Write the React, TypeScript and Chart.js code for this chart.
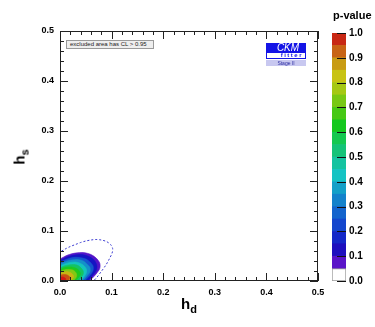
import React, { useEffect, useRef } from 'react';
import { Chart, registerables } from 'chart.js';

Chart.register(...registerables);

const FONT = '"Liberation Sans", Arial, Helvetica, sans-serif';

// axis ticks
const axisTickValues = [0, 0.1, 0.2, 0.3, 0.4, 0.5];
const axisTickLabels = ['0.0', '0.1', '0.2', '0.3', '0.4', '0.5'];
const paletteTickValues = [0, 0.1, 0.2, 0.3, 0.4, 0.5, 0.6, 0.7, 0.8, 0.9, 1.0];
const paletteTickLabels = ['0.0', '0.1', '0.2', '0.3', '0.4', '0.5', '0.6', '0.7', '0.8', '0.9', '1.0'];

// p-value palette (colour bar)
const paletteEdges = [0, 0.05, 0.1, 0.15, 0.2, 0.25, 0.3, 0.35, 0.4, 0.45, 0.5, 0.55, 0.6, 0.65, 0.7, 0.75, 0.8, 0.85, 0.9, 0.95, 1.0];
const paletteColors = [
  '#ffffff', '#5a14c8', '#1e0fbe', '#1428c8', '#1446cd', '#1464cd', '#1482cb', '#14a0c8', '#14c3c3', '#14c3a0',
  '#14c378', '#14c850', '#14c81e', '#46c814', '#78c814', '#a5c814', '#c8c314', '#c89b14', '#c86414', '#c82814',
];

// contour levels of the p-value (hd, hs) and the fill colour inside each level
const pLevels = [0.05, 0.1, 0.2, 0.3, 0.4, 0.5, 0.6, 0.7, 0.8, 0.9, 0.95];
const levelColors = ['#5214c8', '#1414c3', '#1455cd', '#1491c8', '#14c3be', '#14c364', '#1ec81e', '#82c814', '#c8b414', '#c85014', '#d21414'];

const c005 = [[0, 0.044], [0.015, 0.052], [0.03, 0.056], [0.045, 0.057], [0.06, 0.053], [0.07, 0.046], [0.077, 0.036], [0.077, 0.025], [0.07, 0.014], [0.063, 0.006], [0.058, 0]];
const c010 = [[0, 0.041], [0.014, 0.048], [0.028, 0.052], [0.042, 0.053], [0.056, 0.049], [0.065, 0.043], [0.071, 0.033], [0.071, 0.023], [0.065, 0.013], [0.058, 0.005], [0.054, 0]];
const c020 = [[-0.001, 0.037], [0.012, 0.043], [0.025, 0.047], [0.037, 0.047], [0.05, 0.044], [0.058, 0.038], [0.064, 0.03], [0.064, 0.021], [0.058, 0.011], [0.052, 0.005], [0.048, -0.001]];
const c030 = [[-0.001, 0.033], [0.011, 0.039], [0.022, 0.042], [0.034, 0.043], [0.045, 0.04], [0.052, 0.034], [0.058, 0.027], [0.058, 0.018], [0.052, 0.01], [0.047, 0.004], [0.043, -0.001]];
const c040 = [[-0.001, 0.029], [0.009, 0.034], [0.019, 0.037], [0.03, 0.038], [0.04, 0.035], [0.047, 0.03], [0.051, 0.024], [0.051, 0.016], [0.047, 0.009], [0.042, 0.003], [0.038, -0.001]];
const c050 = [[-0.001, 0.025], [0.008, 0.03], [0.017, 0.032], [0.026, 0.033], [0.035, 0.031], [0.041, 0.026], [0.045, 0.02], [0.045, 0.014], [0.041, 0.007], [0.037, 0.002], [0.034, -0.001]];
const c060 = [[-0.001, 0.021], [0.006, 0.026], [0.014, 0.028], [0.022, 0.028], [0.03, 0.026], [0.035, 0.023], [0.039, 0.017], [0.039, 0.012], [0.035, 0.006], [0.031, 0.002], [0.029, -0.001]];
const c070 = [[-0.002, 0.018], [0.005, 0.021], [0.012, 0.023], [0.018, 0.023], [0.025, 0.022], [0.029, 0.019], [0.032, 0.014], [0.032, 0.009], [0.029, 0.004], [0.026, 0.001], [0.024, -0.002]];
const c080 = [[-0.002, 0.014], [0.004, 0.017], [0.009, 0.018], [0.014, 0.019], [0.02, 0.017], [0.023, 0.015], [0.026, 0.011], [0.026, 0.007], [0.023, 0.003], [0.021, 0], [0.019, -0.002]];
const c090 = [[-0.002, 0.01], [0.002, 0.012], [0.006, 0.013], [0.01, 0.013], [0.014, 0.012], [0.017, 0.01], [0.019, 0.008], [0.019, 0.005], [0.017, 0.002], [0.015, -0.001], [0.013, -0.002]];
const c095 = [[-0.002, 0.005], [0, 0.007], [0.003, 0.008], [0.006, 0.008], [0.008, 0.007], [0.01, 0.006], [0.011, 0.004], [0.011, 0.002], [0.01, 0], [0.009, -0.001], [0.008, -0.003]];
const contours = [c005, c010, c020, c030, c040, c050, c060, c070, c080, c090, c095];

// dashed contour
const dashedContour = [[-0.004, 0.056], [0, 0.058], [0.01, 0.064], [0.02, 0.069], [0.03, 0.073], [0.04, 0.077], [0.05, 0.08], [0.06, 0.082], [0.07, 0.083], [0.08, 0.082], [0.09, 0.079], [0.098, 0.073], [0.102, 0.065], [0.101, 0.056], [0.096, 0.045], [0.089, 0.032], [0.08, 0.019], [0.072, 0.008], [0.065, 0], [0.062, -0.004]];

const frameTicks = {
  id: 'frameTicks',
  afterDatasetsDraw(chart: any) {
    const { ctx, chartArea: a, scales } = chart;
    const x = scales.x;
    const y = scales.y;
    ctx.save();
    ctx.strokeStyle = '#222';
    ctx.lineWidth = 1;
    ctx.strokeRect(a.left + 0.5, a.top + 0.5, a.right - a.left - 1, a.bottom - a.top - 1);
    ctx.beginPath();
    for (let k = 0; k <= 25; k++) {
      const v = k * 0.02;
      const len = k % 5 === 0 ? 8 : 4;
      const px = Math.round(x.getPixelForValue(v)) + 0.5;
      ctx.moveTo(px, a.bottom);
      ctx.lineTo(px, a.bottom - len);
      ctx.moveTo(px, a.top);
      ctx.lineTo(px, a.top + len);
      const py = Math.round(y.getPixelForValue(v)) + 0.5;
      ctx.moveTo(a.left, py);
      ctx.lineTo(a.left + len, py);
      ctx.moveTo(a.right, py);
      ctx.lineTo(a.right - len, py);
    }
    ctx.stroke();
    ctx.restore();
  },
};

const barTicks = {
  id: 'barTicks',
  afterDatasetsDraw(chart: any) {
    const { ctx, chartArea: a, scales } = chart;
    const y = scales.y;
    ctx.save();
    ctx.strokeStyle = '#111';
    ctx.lineWidth = 1;
    ctx.beginPath();
    paletteTickValues.forEach((v) => {
      const py = Math.round(y.getPixelForValue(v)) + 0.5;
      ctx.moveTo(a.right, py);
      ctx.lineTo(a.right - 9, py);
    });
    ctx.stroke();
    ctx.restore();
  },
};

export default function App() {
  const mainRef = useRef<HTMLCanvasElement>(null);
  const barRef = useRef<HTMLCanvasElement>(null);

  useEffect(() => {
    Chart.defaults.font.family = FONT;
    const toPts = (arr: number[][]) => arr.map(([x, y]) => ({ x, y }));
    const contourSets = contours.map((c, i) => {
      const first = c[0];
      const last = c[c.length - 1];
      const closed = [...c, [last[0], -0.02], [-0.02, -0.02], [-0.02, first[1]]];
      return {
        label: 'p > ' + pLevels[i],
        data: toPts(closed),
        showLine: true,
        fill: 'shape',
        backgroundColor: levelColors[i],
        borderColor: levelColors[i],
        borderWidth: 0.6,
        pointRadius: 0,
        tension: 0.3,
        order: contours.length - i + 1,
      };
    });
    const dashedSet = {
      label: 'dashed',
      data: toPts(dashedContour),
      showLine: true,
      fill: false,
      borderColor: '#3c3cd2',
      borderWidth: 1,
      borderDash: [2, 2],
      pointRadius: 0,
      tension: 0.3,
      order: 0,
    };

    const axisScale = (isX: boolean) => ({
      type: 'linear',
      min: 0,
      max: 0.5,
      afterBuildTicks: (s: any) => {
        s.ticks = axisTickValues.map((v) => ({ value: v }));
      },
      afterFit: (s: any) => {
        if (isX) s.height = 46;
        else s.width = 60;
      },
      grid: { display: false, drawTicks: false },
      border: { display: false },
      ticks: {
        callback: (_v: any, i: number) => axisTickLabels[i],
        font: { size: 9, weight: 'bold', family: FONT },
        color: '#000',
        padding: 6,
        maxRotation: 0,
        autoSkip: false,
      },
    });

    const main = new Chart(mainRef.current as HTMLCanvasElement, {
      type: 'scatter',
      data: { datasets: [dashedSet, ...contourSets] as any },
      options: {
        responsive: false,
        maintainAspectRatio: false,
        devicePixelRatio: 1,
        animation: false,
        events: [],
        layout: { padding: { left: 0, top: 31, right: 57, bottom: 0 } },
        plugins: { legend: { display: false }, tooltip: { enabled: false } },
        scales: { x: axisScale(true) as any, y: axisScale(false) as any },
      },
      plugins: [frameTicks],
    });

    const bar = new Chart(barRef.current as HTMLCanvasElement, {
      type: 'bar',
      data: {
        labels: ['p'],
        datasets: paletteColors.map((c, i) => ({
          data: [[paletteEdges[i], paletteEdges[i + 1]]],
          backgroundColor: c,
          borderColor: '#999',
          borderWidth: i === 0 ? 1 : 0,
          borderSkipped: false,
          barPercentage: 1,
          categoryPercentage: 1,
        })) as any,
      },
      options: {
        responsive: false,
        maintainAspectRatio: false,
        devicePixelRatio: 1,
        animation: false,
        events: [],
        layout: { padding: { left: 14, top: 33, right: 0, bottom: 46 } },
        plugins: { legend: { display: false }, tooltip: { enabled: false } },
        scales: {
          x: { display: false, stacked: true },
          y: {
            position: 'right',
            min: 0,
            max: 1,
            afterBuildTicks: (s: any) => {
              s.ticks = paletteTickValues.map((v) => ({ value: v }));
            },
            afterFit: (s: any) => {
              s.width = 29;
            },
            grid: { display: false, drawTicks: false },
            border: { display: false },
            ticks: {
              callback: (_v: any, i: number) => paletteTickLabels[i],
              font: { size: 10, weight: 'bold', family: FONT },
              color: '#000',
              padding: 3,
              autoSkip: false,
            },
          } as any,
        },
      },
      plugins: [barTicks],
    });

    return () => {
      main.destroy();
      bar.destroy();
    };
  }, []);

  return (
    <div style={{ position: 'fixed', left: 0, top: 0, width: 375, height: 327, background: '#fff', overflow: 'hidden', fontFamily: FONT }}>
      <canvas ref={mainRef} width={375} height={327} style={{ position: 'absolute', left: 0, top: 0, width: 375, height: 327 }} />
      <canvas ref={barRef} width={57} height={327} style={{ position: 'absolute', left: 318, top: 0, width: 57, height: 327 }} />

      {/* x title */}
      <div style={{ position: 'absolute', left: 181, top: 296, fontSize: 15, lineHeight: '15px', fontWeight: 'bold', whiteSpace: 'nowrap' }}>
        h<span style={{ fontSize: 11, position: 'relative', top: 4 }}>d</span>
      </div>
      {/* y title */}
      <div style={{ position: 'absolute', left: 20, top: 157, width: 0, height: 0 }}>
        <div style={{ position: 'absolute', left: 0, top: 0, transform: 'translate(-50%, -50%) rotate(-90deg)', fontSize: 15, lineHeight: '15px', fontWeight: 'bold', whiteSpace: 'nowrap' }}>
          h<span style={{ fontSize: 11, position: 'relative', top: 4 }}>s</span>
        </div>
      </div>
      {/* palette title */}
      <div style={{ position: 'absolute', left: 333, top: 10, fontSize: 11, lineHeight: '11px', fontWeight: 'bold', whiteSpace: 'nowrap' }}>p-value</div>

      {/* legend box */}
      <div style={{ position: 'absolute', left: 66, top: 40, width: 83, height: 7, background: '#eeeeee', border: '1px solid #999', fontSize: 6, lineHeight: '7px', paddingLeft: 3, boxSizing: 'content-box', whiteSpace: 'nowrap', color: '#222' }}>
        excluded area has CL &gt; 0.95
      </div>

      {/* CKMfitter logo */}
      <div style={{ position: 'absolute', left: 266, top: 43, width: 40 }}>
        <div style={{ background: '#1414e6', color: '#fff', fontStyle: 'italic', fontSize: 10, lineHeight: '9px', height: 9, textAlign: 'center', paddingLeft: 4 }}>CKM</div>
        <div style={{ border: '1px solid #1414e6', background: '#fff', color: '#1414e6', fontSize: 6, fontWeight: 'bold', lineHeight: '5px', height: 5, letterSpacing: 1.5, textAlign: 'right', paddingRight: 2, overflow: 'hidden' }}>fitter</div>
        <div style={{ marginTop: 1, background: '#c8c8f0', color: '#2828a0', fontSize: 5, height: 6, lineHeight: '6px', textAlign: 'center' }}>Stage II</div>
      </div>
    </div>
  );
}
